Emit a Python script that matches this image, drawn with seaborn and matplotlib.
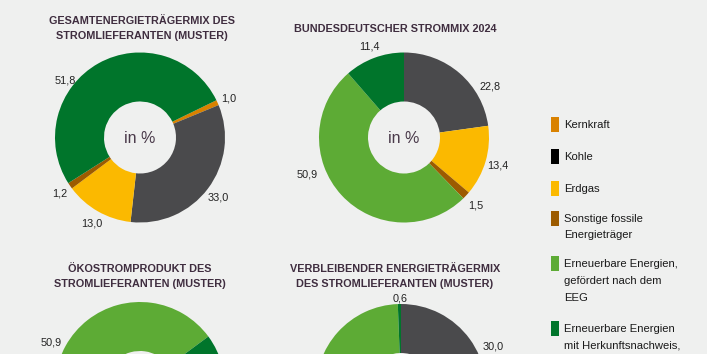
import numpy as np
import matplotlib
matplotlib.use("Agg")
import matplotlib.pyplot as plt
from matplotlib.patches import Rectangle
import seaborn as sns

# ---------------- data ----------------
categories = ["Kernkraft", "Kohle", "Erdgas", "Sonstige fossile\nEnergieträger",
              "Erneuerbare Energien,\ngefördert nach dem\nEEG",
              "Erneuerbare Energien\nmit Herkunftsnachweis,"]

titles = ["GESAMTENERGIETRÄGERMIX DES\nSTROMLIEFERANTEN (MUSTER)",
          "BUNDESDEUTSCHER STROMMIX 2024",
          "ÖKOSTROMPRODUKT DES\nSTROMLIEFERANTEN (MUSTER)",
          "VERBLEIBENDER ENERGIETRÄGERMIX\nDES STROMLIEFERANTEN (MUSTER)"]

mix_lieferant = [1.0, 33.0, 13.0, 1.2, 0.0, 51.8]
mix_bund = [0.0, 22.8, 13.4, 1.5, 50.9, 11.4]
mix_oeko = [0.0, 0.0, 0.0, 0.0, 50.9, 49.1]
mix_rest = [0.0, 30.0, 16.8, 1.7, 50.9, 0.6]

# ---------------- style ----------------
sns.set_theme(style="white")
plt.rcParams["font.family"] = ["Liberation Sans", "DejaVu Sans"]

BG = "#eff0ef"
TITLE_C = "#3f2d3f"
wedge_colors = sns.color_palette(["#d98200", "#4a4a4c", "#fbb900", "#9c5b00", "#5dab35", "#00752b"])
legend_colors = sns.color_palette(["#d98200", "#000000", "#fbb900", "#9c5b00", "#5dab35", "#00752b"])

W, H = 707, 354
fig = plt.figure(figsize=(W / 100, H / 100), dpi=100, facecolor=BG)

CAP = 0.716 * 100 / 72  # cap height in px per pt


def place(x_px, y_px, s, size, **kw):
    """Place text so that the middle of its capitals sits at (x_px, y_px) from top-left."""
    if y_px > H + 2 or x_px > W + 2:
        return
    fig.text(x_px / W, 1 - (y_px + CAP * size / 2) / H, s, fontsize=size, va="baseline", **kw)


# layout: (center x px, center y px from top, radius px, startangle, title line y px list, title x px)
layouts = [
    (140, 137.5, 85, 26.0, [20.0, 35.0], 142),
    (404, 137.5, 85, 90.0, [28.3], 395),
    (140, 387.0, 85, 219.7, [268.0, 283.3], 140),
    (401, 389.0, 85, 90.0, [268.3, 283.3], 395),
]
# label angle overrides (index -> angle deg, distance in radii)
overrides = [
    {5: (142.5, 1.11)},
    {1: (31.4, 1.18), 4: (200.6, 1.22)},
    {4: (152.8, 1.17)},
    {1: (25.0, 1.20), 5: (90.6, 1.08)},
]
hole = 36 / 85

datasets = [mix_lieferant, mix_bund, mix_oeko, mix_rest]

for data, (cx, cy, r, start, tys, tx), ov, title in zip(datasets, layouts, overrides, titles):
    ax = fig.add_axes([(cx - r) / W, (H - cy - r) / H, 2 * r / W, 2 * r / H])
    ax.set_facecolor("none")
    ax.pie(data, colors=wedge_colors, startangle=start, counterclock=False,
           radius=1, wedgeprops=dict(width=1 - hole, linewidth=0))
    ax.set_xlim(-1, 1)
    ax.set_ylim(-1, 1)
    ax.set_axis_off()
    place(cx, cy, "in %", 11.5, ha="center", color="#4a3a4a")
    # value labels
    cum = start
    for i, v in enumerate(data):
        ang_mid = cum - v * 3.6 / 2
        cum -= v * 3.6
        if v <= 0:
            continue
        a, d = ov.get(i, (ang_mid, 1.15))
        a = np.deg2rad(a)
        place(cx + d * r * np.cos(a), cy - d * r * np.sin(a), f"{v:.1f}".replace(".", ","), 7.8,
              ha="center", color="#222222")
    for line, ty in zip(title.split("\n"), tys):
        place(tx, ty, line, 7.8, ha="center", fontweight="bold", color=TITLE_C)

# legend
first_lines = [123.5, 155.5, 187.5, 217.7, 263.3, 328.3]
spacing = 16.6
for lab, col, y0 in zip(categories, legend_colors, first_lines):
    fig.patches.append(Rectangle((550.5 / W, 1 - (y0 + 8) / H), 8.5 / W, 15 / H,
                                 transform=fig.transFigure, facecolor=col, edgecolor="none"))
    for k, line in enumerate(lab.split("\n")):
        place(564, y0 + k * spacing, line, 8.1, ha="left", color="#1a1a1a")

fig.savefig("out.png", dpi=100, facecolor=BG)
